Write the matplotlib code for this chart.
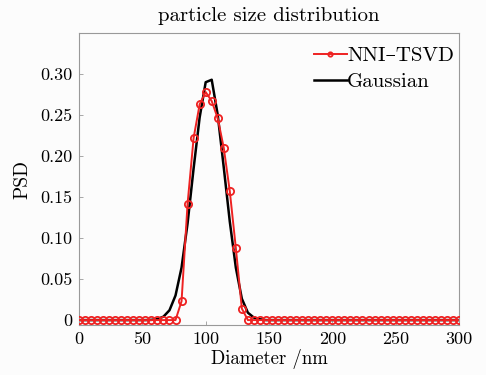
import numpy as np
import matplotlib
matplotlib.use("Agg")
import matplotlib.pyplot as plt
from matplotlib.ticker import FixedLocator, FuncFormatter

# Diameter grid (nm): 64 samples from 0 to 300
diameter = np.linspace(0, 300, 64)

# NNI-TSVD reconstruction (non-zero only around the peak, indices 17..27)
nni_tsvd = np.zeros(64)
nni_peak = [0.023, 0.142, 0.222, 0.263, 0.278, 0.267, 0.246, 0.210, 0.157, 0.088, 0.014]
nni_tsvd[17:28] = nni_peak

# Gaussian reference distribution (indices 12..30)
gaussian = np.zeros(64)
gauss_peak = [0.0003, 0.0013, 0.0042, 0.012, 0.030, 0.064, 0.118, 0.185, 0.247,
              0.290, 0.293, 0.250, 0.186, 0.120, 0.064, 0.026, 0.009, 0.003, 0.001]
gaussian[12:31] = gauss_peak

xticks = [0, 50, 100, 150, 200, 250, 300]
yticks = [0, 0.05, 0.10, 0.15, 0.20, 0.25, 0.30]

plt.rcParams['font.family'] = ['cmr10', 'DejaVu Serif']
plt.rcParams['mathtext.fontset'] = 'cm'
plt.rcParams['axes.unicode_minus'] = False

fig = plt.figure(figsize=(4.86, 3.75), dpi=100, facecolor='#fcfcfc')
ax = fig.add_axes([0.1626, 0.1333, 0.7818, 0.7787])
ax.set_facecolor('#fcfcfc')

ax.plot(diameter, nni_tsvd, color='#ee2222', lw=1.4, marker='o', ms=5.2,
        mfc='none', mec='#ee2222', mew=1.3, label='NNI–TSVD', zorder=3)
ax.plot(diameter, gaussian, color='black', lw=1.8, label='Gaussian', zorder=2)

ax.set_xlim(0, 300)
ax.set_ylim(-0.006, 0.35)
ax.xaxis.set_major_locator(FixedLocator(xticks))
ax.yaxis.set_major_locator(FixedLocator(yticks))
ax.yaxis.set_major_formatter(FuncFormatter(lambda v, p: '0' if abs(v) < 1e-9 else f'{v:.2f}'))
ax.tick_params(direction='in', length=3, width=0.6, color='#999999',
               labelsize=13, pad=5, top=False, right=False)
for s in ax.spines.values():
    s.set_color('#999999')
    s.set_linewidth(0.8)

ax.set_xlabel('Diameter /nm', fontsize=13.5, labelpad=1)
ax.set_ylabel('PSD', fontsize=14, labelpad=6)
ax.set_title('particle size distribution', fontsize=15, pad=9)

leg = ax.legend(loc='upper right', bbox_to_anchor=(1.0, 0.972), frameon=False,
                fontsize=15, handlelength=1.6, handletextpad=0.0, borderaxespad=0.0,
                borderpad=0.25, labelspacing=0.35, markerscale=0.6)

fig.savefig('out.png', dpi=100, facecolor=fig.get_facecolor())
